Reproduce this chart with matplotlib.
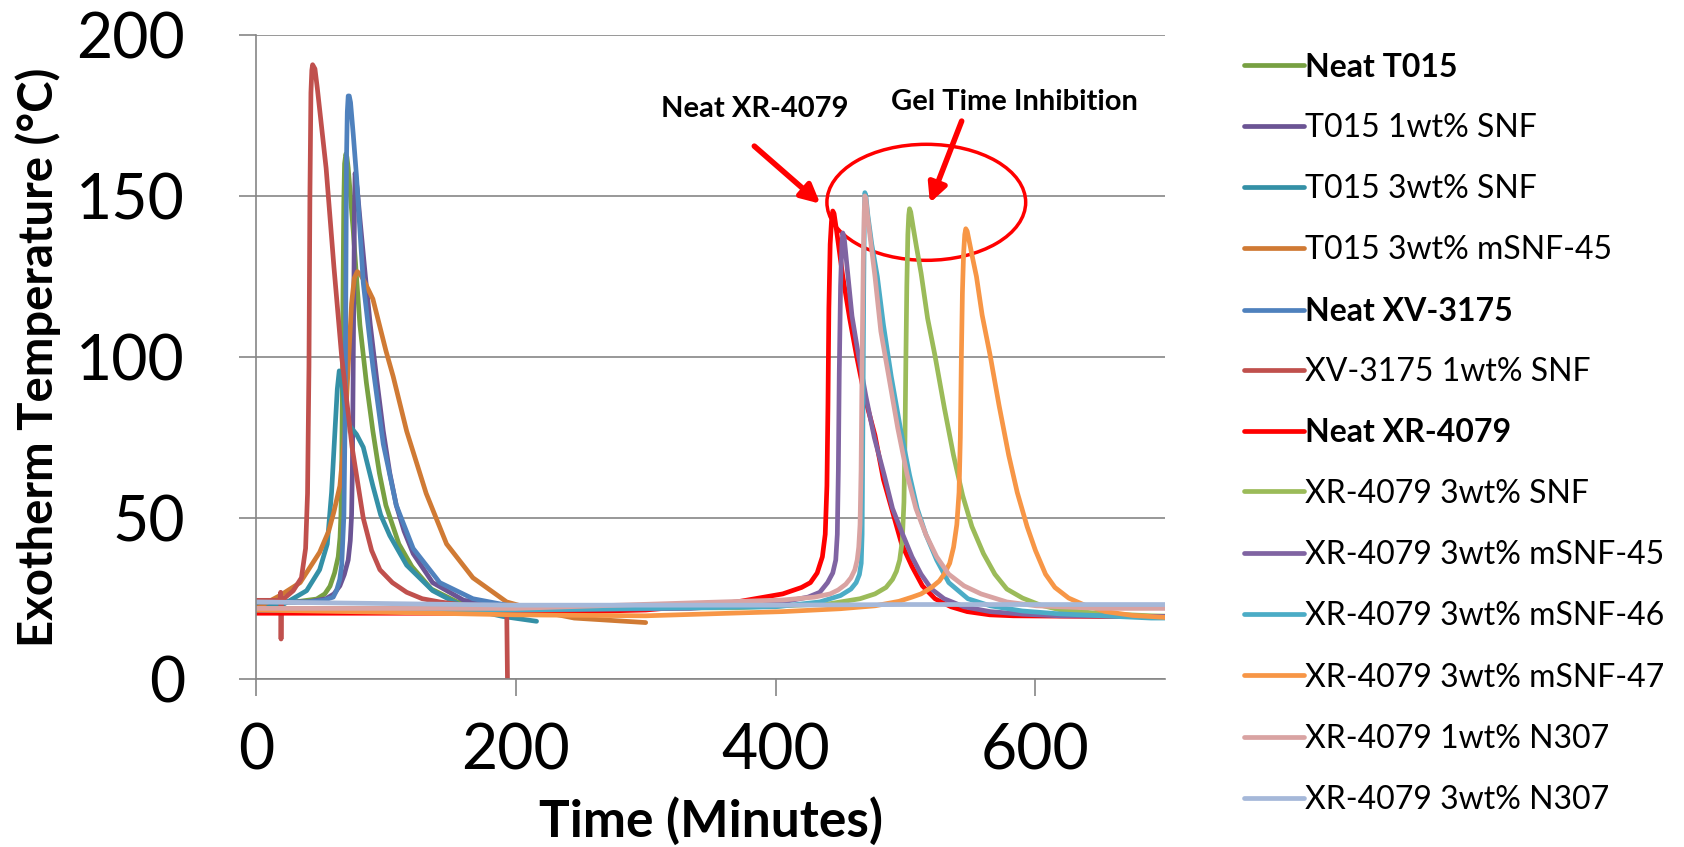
# Exotherm curves for T015 / XV-3175 / XR-4079 resins with nanofiller additions
import matplotlib.pyplot as plt
from matplotlib.patches import Ellipse

plt.rcParams['font.family'] = ['Lato', 'DejaVu Sans']

# data (time in minutes, temperature in C)
neat_t015_t = [0, 30, 46.7, 53, 57, 60.5, 63.3, 64.7, 65.4, 66, 66.4, 67, 67.6, 68.2, 69.2, 70, 71, 74.9, 80, 85, 90, 95, 100, 110, 120, 135, 155, 180, 210]
neat_t015_y = [24, 24, 24.9, 26.5, 28.9, 33, 38, 44, 51, 65, 84, 120, 148, 160, 163, 162, 158.6, 139, 110, 92, 77, 64, 54, 42, 35, 28, 24, 23, 22.5]

t015_1snf_t = [0, 40, 54, 60, 64.6, 68, 71, 72.6, 73.6, 74.2, 74.6, 75, 75.4, 75.8, 76.3, 77, 78, 80, 84, 88, 93, 98, 103, 108, 114, 121, 136, 160, 190, 215]
t015_1snf_y = [24, 24, 25, 26.5, 29, 32.5, 37, 43, 51, 65, 84, 105, 123, 145, 157, 155, 152, 143, 126, 110, 93, 77, 64, 54, 46, 39, 30, 24.5, 23, 22.5]

t015_3snf_t = [0, 20, 39, 49, 54.9, 58.2, 60.8, 62.6, 64.1, 66, 68.5, 72.3, 77.4, 82.6, 90, 96, 103, 116, 136, 162, 190, 216]
t015_3snf_y = [23, 23, 27.5, 34, 42, 58, 77, 90, 95.7, 93, 84, 78.6, 76, 72, 60, 51, 44.6, 35.4, 27.5, 22, 19.5, 18]

t015_m45_t = [0, 18.5, 34, 49, 56, 60, 64.6, 68.5, 71, 73.6, 75.7, 78, 80.5, 84, 90, 95, 100, 105.6, 116, 131, 146.7, 167, 193, 220, 245, 300]
t015_m45_y = [22, 26, 30, 39.4, 46, 52, 60, 77, 97, 116.6, 124.5, 126.5, 125.6, 123, 118, 110, 102, 94, 77, 57.7, 42, 31.5, 24, 21, 19, 17.6]

neat_xv_t = [0, 40, 52, 59.5, 62, 64.5, 66, 67.7, 68.7, 69.2, 69.7, 70.3, 71, 71.8, 72.8, 74.9, 77.4, 82.6, 90, 98, 108, 121, 141.5, 167, 193, 215]
neat_xv_y = [24, 24, 24.5, 25.5, 27.5, 31, 35.5, 51, 84, 123, 162, 176, 181, 181, 179, 169, 156, 123, 97, 73, 54, 40.6, 30, 25, 23, 22.5]

xv_1snf_t = [0, 18.5, 19, 19.3, 19.6, 20, 28.7, 35, 38.2, 39.7, 40.8, 41.5, 42.3, 43, 43.6, 45.4, 47.2, 54, 60, 66, 74, 82.6, 89, 95.4, 105, 116, 128, 141.5, 170, 193, 193.6]
xv_1snf_y = [24.5, 24.5, 27, 12.5, 24, 24.5, 27.5, 31.5, 40.6, 57.7, 97, 149, 182, 189, 190.7, 189.4, 183.5, 158.6, 128, 100, 72, 50, 40, 34, 30, 27, 25, 24, 22.5, 22, 0]

neat_xr_t = [0, 100, 200, 300, 370, 405.5, 420, 426.8, 432, 436, 438.2, 439.5, 440.3, 441, 442, 443, 444, 445, 447, 451.7, 457, 462.3, 469, 476.5, 483, 490.7, 497, 505, 513, 522.7, 535, 547.5, 565, 583, 650, 700]
neat_xr_y = [20.5, 20.5, 20.5, 21.5, 24, 26.5, 28.5, 30, 33, 38, 45, 60, 85, 115, 135, 142, 145.3, 144.5, 139, 125, 112, 100.4, 87, 75.7, 62, 51, 42, 35, 29, 25, 22.5, 21, 20, 19.7, 19.5, 19.5]

xr_3snf_t = [0, 200, 370, 441, 465, 476.5, 485, 490, 493, 495.5, 497.5, 498.8, 499.6, 500.3, 501, 501.8, 502.5, 503.1, 504, 506, 508.5, 512, 517, 522.7, 530, 536.9, 544, 551.1, 560, 568.8, 578, 590.1, 604, 618.5, 650, 689.4, 700]
xr_3snf_y = [22, 22, 22.2, 23.4, 25, 26.5, 28.5, 31, 33.5, 37, 43, 55, 75, 100, 122, 138, 144, 146, 145, 140, 134, 126, 112, 100.4, 84, 69.6, 57, 47.4, 39, 32.6, 28, 25.2, 23, 21.6, 20.4, 19.7, 19.6]

xr_m45_t = [0, 200, 334.6, 405.5, 425, 434, 440, 444, 446.3, 447.5, 448.3, 449, 450, 451, 451.7, 452.8, 455, 458.8, 464, 469.4, 476, 483.6, 490, 497.8, 505, 512, 520, 529.7, 545, 565.2, 590, 618.5, 700]
xr_m45_y = [21.5, 21.5, 22, 24, 25.5, 27, 30, 33, 37, 45, 65, 95, 122, 135, 138.5, 137, 128, 112.7, 100, 88, 75, 63.4, 53, 45, 38, 32.6, 28, 25, 22.5, 21, 20.2, 19.7, 19.5]

xr_m46_t = [0, 200, 400, 434, 450, 458, 462, 464.5, 465.9, 466.6, 467.2, 467.8, 468.3, 468.7, 469.5, 471, 474, 478.3, 483, 489, 496, 503.1, 509, 515.6, 524, 533.3, 548, 565.2, 590, 618.5, 689, 700]
xr_m46_y = [21.5, 21.5, 22.5, 24, 26, 28, 30, 32.5, 36, 45, 80, 120, 143, 151, 150, 144, 135, 125, 110, 94, 78, 63.4, 53, 45, 37, 30, 25, 22.8, 21.2, 20.3, 19, 19]

xr_m47_t = [0, 100, 200, 300, 405.5, 450, 476.5, 495, 505, 512, 520, 526, 529.7, 534, 537, 539.5, 541.2, 542.2, 543, 543.8, 544.7, 545.6, 546.4, 547.5, 549.5, 552, 554.6, 559, 565.2, 572, 579.4, 586, 593.6, 600, 607.8, 615, 625.6, 638, 654, 675, 700]
xr_m47_y = [21.5, 20.8, 20, 19.7, 21, 21.9, 22.8, 24.2, 25.5, 26.5, 28.5, 30.5, 32.6, 36, 41, 48, 58, 75, 100, 120, 132, 138, 139.8, 139, 135, 130, 125, 113, 100.4, 85, 69.6, 58, 47.4, 40, 32.6, 28.5, 25.2, 23, 21, 19.8, 19.2]

xr_1n307_t = [0, 200, 405.5, 430, 442, 448.1, 454, 458, 461, 462.8, 464, 465, 465.8, 466.6, 467.5, 468.2, 468.7, 469.5, 471, 476.5, 481, 487.1, 494, 501.3, 508, 515.6, 524, 533.3, 545, 558.1, 578, 600.7, 650, 700]
xr_1n307_y = [22, 22, 24.6, 25.5, 26.5, 27.7, 29.5, 31.5, 34, 37, 41, 48, 65, 100, 130, 145, 150, 149, 143, 125, 108, 94, 78, 63.4, 53, 45, 38, 32.6, 29, 26.5, 24, 22.8, 22, 22]

xr_3n307_t = [0, 100, 200, 300, 400, 500, 600, 700]
xr_3n307_y = [24, 23.5, 23, 23, 23, 23.2, 23.2, 23.2]

labels = ["Neat T015", "T015 1wt% SNF", "T015 3wt% SNF", "T015 3wt% mSNF-45",
          "Neat XV-3175", "XV-3175 1wt% SNF", "Neat XR-4079", "XR-4079 3wt% SNF",
          "XR-4079 3wt% mSNF-45", "XR-4079 3wt% mSNF-46", "XR-4079 3wt% mSNF-47",
          "XR-4079 1wt% N307", "XR-4079 3wt% N307"]
colors = ["#77A042", "#6B5494", "#3490A6", "#D07A34", "#4F81BD", "#C0504D", "#FF0000",
          "#9BBB59", "#8064A2", "#4BACC6", "#F79646", "#D9A3A2", "#A5B8D9"]
bold_labels = ["Neat T015", "Neat XV-3175", "Neat XR-4079"]

series = [(neat_t015_t, neat_t015_y), (t015_1snf_t, t015_1snf_y), (t015_3snf_t, t015_3snf_y),
          (t015_m45_t, t015_m45_y), (neat_xv_t, neat_xv_y), (xv_1snf_t, xv_1snf_y),
          (neat_xr_t, neat_xr_y), (xr_3snf_t, xr_3snf_y), (xr_m45_t, xr_m45_y),
          (xr_m46_t, xr_m46_y), (xr_m47_t, xr_m47_y), (xr_1n307_t, xr_1n307_y),
          (xr_3n307_t, xr_3n307_y)]

fig = plt.figure(figsize=(16.84, 8.47), dpi=100)
ax = fig.add_axes([0.152, 0.198, 0.540, 0.761])

for (t, y), lab, col in zip(series, labels, colors):
    ax.plot(t, y, color=col, linewidth=3.4, label=lab,
            solid_capstyle='round', solid_joinstyle='round')

ax.set_xlim(0, 700)
ax.set_ylim(0, 200)
ax.set_xticks([0, 200, 400, 600])
ax.set_yticks([0, 50, 100, 150, 200])
ax.grid(True, axis='y', color='#868686', linewidth=1.2)
ax.set_axisbelow(True)
for s in ['top', 'right']:
    ax.spines[s].set_visible(False)
for s in ['left', 'bottom']:
    ax.spines[s].set_color('#868686')
    ax.spines[s].set_linewidth(1.2)
ax.tick_params(axis='both', colors='#868686', length=12, width=1.2, labelsize=45,
               labelcolor='black')
ax.tick_params(axis='y', pad=39)
ax.tick_params(axis='x', pad=19)

ax.set_xlabel("Time (Minutes)", fontsize=37, fontweight='bold', labelpad=12)
ax.set_ylabel("Exotherm Temperature (°C)", fontsize=34, fontweight='bold', labelpad=11)

# annotations
ax.add_patch(Ellipse((516, 148), 153, 36, fill=False, edgecolor='red', linewidth=2.5))
ax.annotate("", xy=(436, 147), xytext=(382, 166),
            arrowprops=dict(arrowstyle='-|>', color='red', lw=4, mutation_scale=28))
ax.annotate("", xy=(518, 147), xytext=(544, 174),
            arrowprops=dict(arrowstyle='-|>', color='red', lw=4, mutation_scale=28))
ax.text(384, 177, "Neat XR-4079", fontsize=21, fontweight='bold', ha='center', va='center')
ax.text(584, 179, "Gel Time Inhibition", fontsize=21, fontweight='bold', ha='center', va='center')

leg = ax.legend(loc='upper left', bbox_to_anchor=(0.739, 0.938), bbox_transform=fig.transFigure,
                frameon=False, fontsize=23, handlelength=1.85, handletextpad=0.05,
                labelspacing=0.98, borderpad=0, borderaxespad=0)
for txt in leg.get_texts():
    if txt.get_text() in bold_labels:
        txt.set_fontweight('bold')

plt.savefig("out.png", dpi=100)
